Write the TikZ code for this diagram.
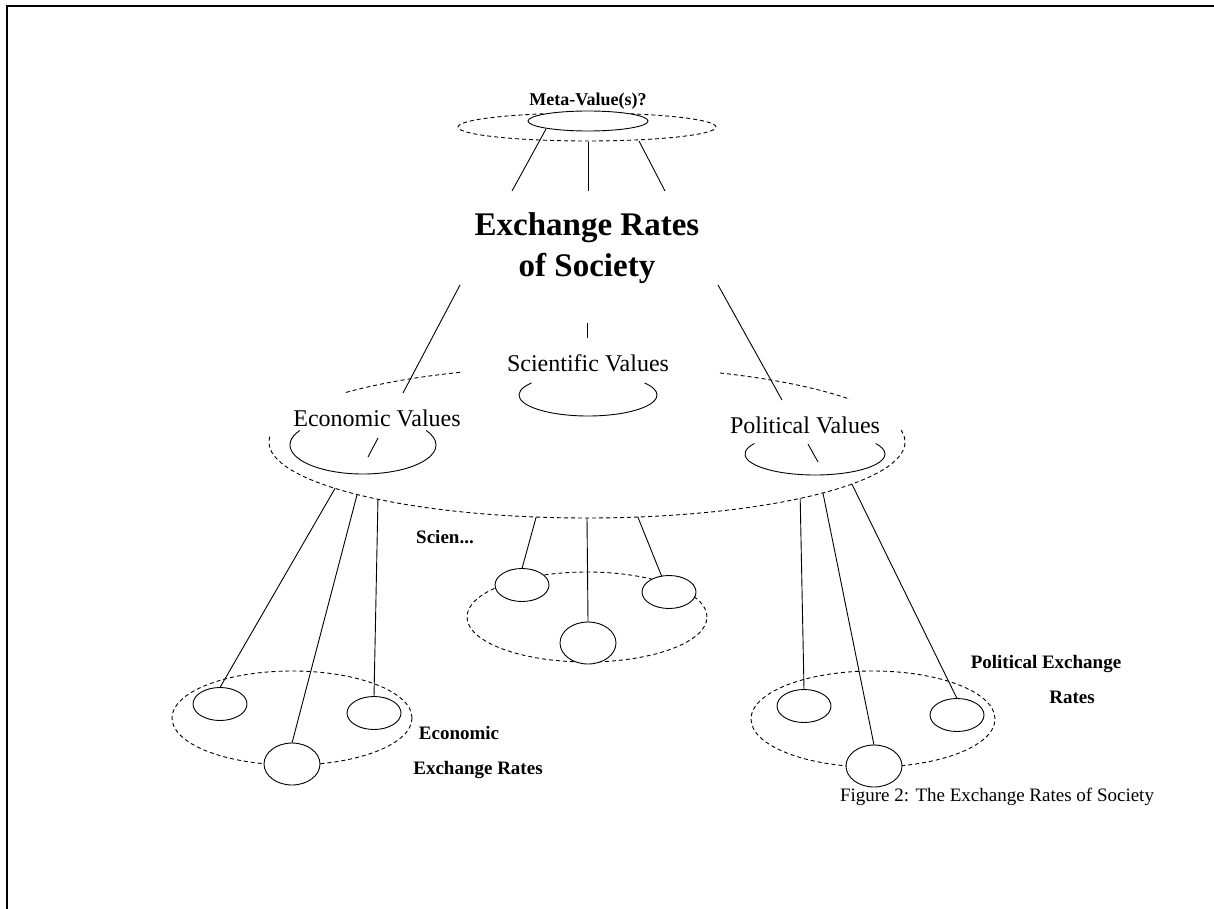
\documentclass[tikz,border=0pt]{standalone}
\usepackage{fontspec}
\setmainfont{Liberation Serif}
\usetikzlibrary{shapes.geometric}
\begin{document}
\begin{tikzpicture}[x=1pt,y=1pt,
  every node/.style={inner sep=0pt,outer sep=0pt},
  ln/.style={line width=0.9pt},
  dsh/.style={line width=0.9pt,dash pattern=on 4pt off 3pt},
  oval/.style={draw,ellipse,ln,fill=white},
  ring/.style={draw,ellipse,dsh},
  small/.style={oval,minimum width=54pt,minimum height=33pt},
  mid/.style={oval,minimum width=56pt,minimum height=42pt},
  lab/.style={font=\fontsize{24}{28}\selectfont},
  blab/.style={font=\fontsize{19}{22}\selectfont\bfseries},
  captext/.style={font=\fontsize{19}{22}\selectfont}]
\useasboundingbox (0,0) rectangle (1214,-909);
\draw[line width=2pt] (7,-909) -- (7,-6) -- (1214,-6);

% ---------- top: meta values ----------
\node[blab,font=\fontsize{18}{20}\selectfont\bfseries] (meta) at (588,-101) {Meta-Value(s)?};
\node[ring,minimum width=258pt,minimum height=28pt] (metaring) at (587,-127) {};
\node[oval,minimum width=120pt,minimum height=20pt] (metacore) at (588,-121) {};
\coordinate (t1) at (546,-129); \coordinate (t1e) at (512,-191);
\coordinate (t2) at (588,-142); \coordinate (t2e) at (588,-191);
\coordinate (t3) at (639,-141); \coordinate (t3e) at (665,-191);
\draw[ln] (t1) -- (t1e);
\draw[ln] (t2) -- (t2e);
\draw[ln] (t3) -- (t3e);

\node[anchor=base,font=\fontsize{33}{40}\selectfont\bfseries] (ers1) at (587,-236) {Exchange Rates};
\node[anchor=base,font=\fontsize{33}{40}\selectfont\bfseries] (ers2) at (587,-276) {of Society};

% ---------- values ----------
\coordinate (bigc) at (587,-442);
\draw[dsh] ([shift={(139.3:318pt and 76pt)}]bigc) arc[start angle=139.3,end angle=113.3,x radius=318pt,y radius=76pt];
\draw[dsh] ([shift={(65.3:318pt and 76pt)}]bigc) arc[start angle=65.3,end angle=34.2,x radius=318pt,y radius=76pt];
\draw[dsh] ([shift={(176:318pt and 76pt)}]bigc) arc[start angle=176,end angle=369,x radius=318pt,y radius=76pt];

\coordinate (L1s) at (460,-285); \coordinate (L1e) at (403,-393);
\coordinate (L2s) at (587,-323); \coordinate (L2e) at (587,-338);
\coordinate (L3s) at (718,-285); \coordinate (L3e) at (782,-400);
\draw[ln] (L1s) -- (L1e);
\draw[ln] (L2s) -- (L2e);
\draw[ln] (L3s) -- (L3e);

\node[lab] (sci) at (588,-363) {Scientific Values};
\node[lab] (eco) at (377,-418) {Economic Values};
\node[lab] (pol) at (805,-425) {Political Values};

\coordinate (ecoc) at (363,-445);
\coordinate (scic) at (588,-395);
\coordinate (polc) at (815,-454);
\draw[ln] ([shift={(150:73pt and 29pt)}]ecoc) arc[start angle=150,end angle=390,x radius=73pt,y radius=29pt];
\draw[ln] ([shift={(145:69pt and 21pt)}]scic) arc[start angle=145,end angle=395,x radius=69pt,y radius=21pt];
\draw[ln] ([shift={(150:70pt and 21pt)}]polc) arc[start angle=150,end angle=390,x radius=70pt,y radius=21pt];
\coordinate (et1) at (378,-438); \coordinate (et2) at (368,-457);
\coordinate (pt1) at (808,-444); \coordinate (pt2) at (818,-462);
\draw[ln] (et1) -- (et2);
\draw[ln] (pt1) -- (pt2);

% ---------- start points on the big ring ----------
\coordinate (e1) at ([shift={(217.6:318pt and 76pt)}]bigc);
\coordinate (e2) at ([shift={(223.7:318pt and 76pt)}]bigc);
\coordinate (e3) at ([shift={(228.9:318pt and 76pt)}]bigc);
\coordinate (s1) at ([shift={(260.8:318pt and 76pt)}]bigc);
\coordinate (s2) at ([shift={(270:318pt and 76pt)}]bigc);
\coordinate (s3) at ([shift={(279.2:318pt and 76pt)}]bigc);
\coordinate (p1) at ([shift={(312.1:318pt and 76pt)}]bigc);
\coordinate (p2) at ([shift={(317.9:318pt and 76pt)}]bigc);
\coordinate (p3) at ([shift={(326.4:318pt and 76pt)}]bigc);

% ---------- economic cluster ----------
\node[ring,minimum width=240pt,minimum height=94pt] (ering) at (292,-718) {};
\node[small] (eA) at (220,-704) {};
\node[mid] (eB) at (292,-764) {};
\node[small] (eC) at (374,-713) {};
\draw[ln] (e1) -- (eA.north);
\draw[ln] (e2) -- (eB.north);
\draw[ln] (e3) -- (eC.north);
\node[blab] (ecol1) at (459,-733) {Economic};
\node[blab] (ecol2) at (478,-770) {Exchange Rates};

% ---------- scientific cluster ----------
\node[ring,minimum width=240pt,minimum height=90pt] (sring) at (587,-617) {};
\node[small] (sA) at (522,-585) {};
\node[mid] (sB) at (588,-643) {};
\node[small] (sC) at (669,-592) {};
\draw[ln] (s1) -- (sA.north);
\draw[ln] (s2) -- (sB.north);
\draw[ln] (s3) -- (sC.115);
\node[blab] (scil) at (445,-537) {Scien...};

% ---------- political cluster ----------
\node[ring,minimum width=244pt,minimum height=96pt] (pring) at (873,-719) {};
\node[small] (pA) at (804,-706) {};
\node[mid] (pB) at (874,-766) {};
\node[small] (pC) at (957,-715) {};
\draw[ln] (p1) -- (pA.north);
\draw[ln] (p2) -- (pB.north);
\draw[ln] (p3) -- (pC.north);
\node[blab] (poll1) at (1046,-664) {Political Exchange};
\node[blab] (poll2) at (1072,-697) {Rates};

% ---------- caption ----------
\node[captext] (caption) at (997,-797) {Figure 2: The Exchange Rates of Society};
\end{tikzpicture}
\end{document}
